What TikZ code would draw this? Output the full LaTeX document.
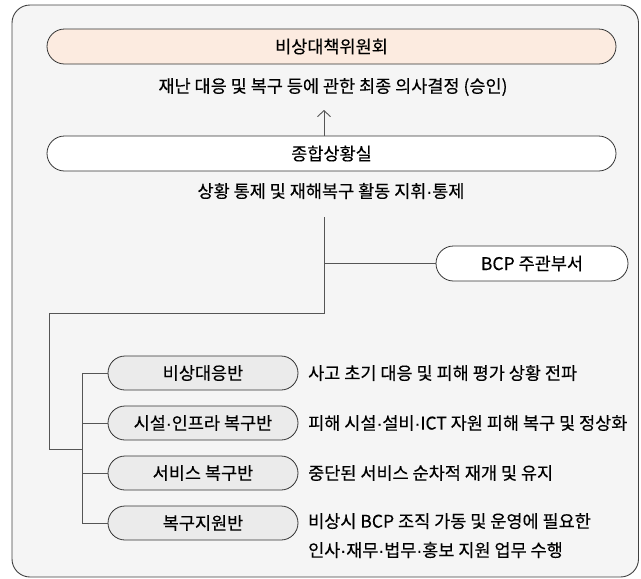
\documentclass[tikz,border=0pt]{standalone}
\usepackage{fontspec}
\setmainfont{Noto Sans CJK KR}[FakeBold=0.3]
\newfontfamily\dotfont{Liberation Sans}[FakeBold=0.3]
\usepackage{tikz}
\usetikzlibrary{positioning,shapes.misc,arrows.meta}
\definecolor{panelgray}{HTML}{F5F5F5}
\definecolor{peach}{HTML}{FCEBE0}
\definecolor{teamgray}{HTML}{EBEBEB}
\definecolor{linegray}{HTML}{555555}
\newcommand\TxtSize{\fontsize{17.5}{29}\selectfont}
\newcommand\md{{\dotfont ·}}
\tikzset{
  pill/.style={
    shape = rounded rectangle,
    draw = black!80,
    line width = 0.8pt,
    inner sep = 0pt,
    font = \TxtSize
  },
  wide/.style={
    pill,
    minimum width = 569pt,
    minimum height = 35pt
  },
  team/.style={
    pill,
    fill = teamgray,
    minimum width = 190pt,
    minimum height = 34pt
  },
  desc/.style={
    font = \TxtSize,
    inner sep = 0pt,
    align = left
  },
  wire/.style={
    draw = linegray,
    line width = 0.9pt
  }
}

\begin{document}
\begin{tikzpicture}[x=1pt,y=-1pt]
    \useasboundingbox (0,0) rectangle (641,579);
    \draw[black!75, line width=0.9pt, fill=panelgray, rounded corners=18pt] (12,5) rectangle (638.5,577);

    % top levels
    \node[wide, fill=peach] (chair) at (331.5,46.5) {비상대책위원회};
    \node[desc] (chairdesc) at (333,87) {재난 대응 및 복구 등에 관한 최종 의사결정 (승인)};
    \node[wide, fill=white] (hub) at (331.5,153.5) {종합상황실};
    \node[desc] (hubdesc) at (331,191) {상황 통제 및 재해복구 활동 지휘\md 통제};
    \node[pill, fill=white, minimum width=192pt, minimum height=35pt] (bcp) at (532,263.5) {BCP 주관부서};

    \coordinate (tip) at (324,110);
    \draw[wire, -{Straight Barb[length=6pt,width=13pt]}] (hub.north -| tip) -- (tip);

    % teams
    \node[team] (t1) at (203,373) {비상대응반};
    \node[team] (t2) at (203,423) {시설\md 인프라 복구반};
    \node[team] (t3) at (203,473) {서비스 복구반};
    \node[team] (t4) at (203,523) {복구지원반};

    \node[desc, anchor=west] (d1) at (308,373) {사고 초기 대응 및 피해 평가 상황 전파};
    \node[desc, anchor=west] (d2) at (308,423) {피해 시설\md 설비\md ICT 자원 피해 복구 및 정상화};
    \node[desc, anchor=west] (d3) at (308,473) {중단된 서비스 순차적 재개 및 유지};
    \node[desc, anchor=north west] (d4) at (308,513) {비상시 BCP 조직 가동 및 운영에 필요한\\인사\md 재무\md 법무\md 홍보 지원 업무 수행};

    % connectors
    \coordinate (spine) at (324,217);
    \coordinate (bend) at (324,313);
    \coordinate (drop) at (49,449);
    \coordinate (rail) at (82,449);
    \draw[wire] (spine) -- (bend) -| (drop) -- (rail);
    \draw[wire] (spine |- bcp) -- (bcp.west);
    \draw[wire] (rail |- t1) -- (rail |- t4);
    \foreach \t in {t1,t2,t3,t4}
        \draw[wire] (rail |- \t) -- (\t.west);
\end{tikzpicture}
\end{document}
